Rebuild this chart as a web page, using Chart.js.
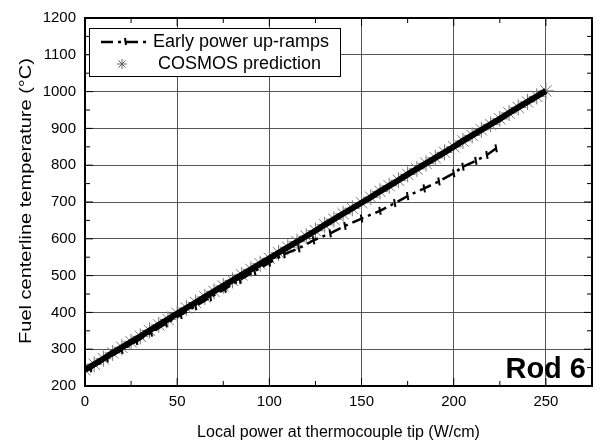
<!DOCTYPE html>
<html>
<head>
<meta charset="utf-8">
<script src="https://cdn.jsdelivr.net/npm/chart.js@4"></script>
<style>
  body { margin: 0; background: #fff; }
  canvas { display: block; }
</style>
</head>
<body>
<canvas id="rodChart" width="601" height="445"></canvas>
<script>
// COSMOS prediction (W/cm, degC)
const cosmosPower = [0, 5, 10, 15, 20, 25, 30, 35, 40, 45, 50, 55, 60, 65, 70, 75, 80, 85, 90, 95,
    100, 105, 110, 115, 120, 125, 130, 135, 140, 145, 150, 155, 160, 165, 170, 175, 180, 185, 190, 195,
    200, 205, 210, 215, 220, 225, 230, 235, 240, 245, 250];
const cosmosTemp = [244, 259, 274, 290, 305, 320, 335, 351, 366, 381, 397, 412, 427, 442, 457, 472, 487, 502, 517, 532,
    547, 562, 577, 592, 607, 622, 638, 653, 668, 683, 698, 713, 729, 744, 759, 775, 790, 805, 820, 835,
    850, 866, 881, 896, 911, 926, 942, 957, 972, 987, 1002];

// Early power up-ramps (measured)
const rampPower = [3, 12, 20, 28, 36, 44, 52, 60, 68, 76, 84, 92, 100, 108, 116, 124, 133, 141, 150,
    160, 168, 175, 184, 192, 200, 205, 212, 218, 223];
const rampTemp = [248, 275, 298, 322, 345, 370, 393, 417, 441, 464, 488, 512, 535, 558, 574, 596, 615, 635, 655,
    676, 697, 716, 737, 756, 778, 796, 812, 828, 846];

// Axis ticks
const xTicks = [0, 50, 100, 150, 200, 250];
const xMinorTicks = [25, 75, 125, 175, 225];
const yTicks = [200, 300, 400, 500, 600, 700, 800, 900, 1000, 1100, 1200];
const yMinorTicks = [250, 350, 450, 550, 650, 750, 850, 950, 1050, 1150];

const FONT = '"Liberation Sans", Arial, sans-serif';

function toPoints(xs, ys) {
    return xs.map((v, i) => ({ x: v, y: ys[i] }));
}

// Frame, inward ticks, legend box, y title and the "Rod 6" label
const decorations = {
    id: 'decorations',
    afterDatasetsDraw(chart) {
        const { ctx, chartArea: a, scales: { x, y } } = chart;
        ctx.save();
        ctx.strokeStyle = '#000';
        ctx.lineWidth = 1;
        ctx.setLineDash([]);

        function seg(x1, y1, x2, y2) {
            ctx.beginPath();
            ctx.moveTo(x1, y1);
            ctx.lineTo(x2, y2);
            ctx.stroke();
        }

        xTicks.forEach(v => {
            const px = x.getPixelForValue(v);
            seg(px, a.bottom, px, a.bottom - 8);
            seg(px, a.top, px, a.top + 8);
        });
        xMinorTicks.forEach(v => {
            const px = x.getPixelForValue(v);
            seg(px, a.bottom, px, a.bottom - 5);
            seg(px, a.top, px, a.top + 5);
        });
        yTicks.forEach(v => {
            const py = y.getPixelForValue(v);
            seg(a.left, py, a.left + 8, py);
            seg(a.right, py, a.right - 8, py);
        });
        yMinorTicks.forEach(v => {
            const py = y.getPixelForValue(v);
            seg(a.left, py, a.left + 5, py);
            seg(a.right, py, a.right - 5, py);
        });

        ctx.lineWidth = 2;
        ctx.strokeRect(a.left, a.top, a.right - a.left, a.bottom - a.top);

        // legend
        ctx.fillStyle = '#fff';
        ctx.fillRect(89, 28, 251, 48);
        ctx.lineWidth = 1;
        ctx.strokeRect(89.5, 28.5, 251, 48);

        ctx.lineWidth = 2.5;
        ctx.setLineDash([12, 5, 3, 5]);
        seg(101, 42, 150, 42);
        ctx.setLineDash([]);
        ctx.lineWidth = 2;
        seg(125, 38, 126, 45);

        ctx.strokeStyle = '#666';
        ctx.lineWidth = 1;
        const sx = 122, sy = 64, r = 5;
        seg(sx - r, sy, sx + r, sy);
        seg(sx, sy - r, sx, sy + r);
        seg(sx - r * 0.7, sy - r * 0.7, sx + r * 0.7, sy + r * 0.7);
        seg(sx - r * 0.7, sy + r * 0.7, sx + r * 0.7, sy - r * 0.7);

        ctx.fillStyle = '#000';
        ctx.font = '18px ' + FONT;
        ctx.textBaseline = 'middle';
        ctx.textAlign = 'left';
        ctx.fillText('Early power up-ramps', 153, 42);
        ctx.fillText('COSMOS prediction', 158, 64);

        ctx.font = 'bold 29px ' + FONT;
        ctx.textAlign = 'right';
        ctx.textBaseline = 'alphabetic';
        ctx.fillText('Rod 6', 586, 378);

        // y title, stretched along its length like the scan
        ctx.translate(27, 201);
        ctx.rotate(-Math.PI / 2);
        ctx.scale(1.25, 1);
        ctx.font = '16px ' + FONT;
        ctx.textAlign = 'center';
        ctx.textBaseline = 'middle';
        ctx.fillText('Fuel centerline temperature (°C)', 0, 0);
        ctx.restore();
    }
};

const ctx = document.getElementById('rodChart').getContext('2d');
new Chart(ctx, {
    type: 'scatter',
    data: {
        datasets: [
            {
                label: 'core',
                data: toPoints(cosmosPower, cosmosTemp),
                showLine: true,
                borderColor: '#000',
                borderWidth: 6,
                pointRadius: 0,
                order: 1
            },
            {
                label: 'COSMOS prediction',
                data: toPoints(cosmosPower, cosmosTemp),
                showLine: false,
                pointStyle: 'star',
                pointRadius: 8,
                borderColor: '#777',
                backgroundColor: '#777',
                pointBorderWidth: 1,
                order: 2
            },
            {
                label: 'Early power up-ramps',
                data: toPoints(rampPower, rampTemp),
                showLine: true,
                borderColor: '#000',
                borderWidth: 2.5,
                borderDash: [12, 5, 3, 5],
                pointStyle: 'line',
                rotation: 80,
                pointRadius: 4,
                pointBorderWidth: 2,
                pointBorderColor: '#000',
                order: 0
            }
        ]
    },
    options: {
        responsive: false,
        animation: false,
        layout: { padding: { top: 13, right: 5, left: 0, bottom: 0 } },
        plugins: {
            legend: { display: false },
            tooltip: { enabled: false }
        },
        scales: {
            x: {
                type: 'linear',
                min: 0,
                max: 275,
                afterBuildTicks: s => { s.ticks = xTicks.map(v => ({ value: v })); },
                afterFit: s => { s.height = 59; },
                grid: { color: '#555', lineWidth: 1, drawTicks: false },
                border: { display: false },
                ticks: { color: '#000', font: { family: FONT, size: 15 }, padding: 7, maxRotation: 0, callback: v => String(v) },
                title: {
                    display: true,
                    text: 'Local power at thermocouple tip (W/cm)',
                    color: '#000',
                    font: { family: FONT, size: 16 },
                    padding: { top: 0, bottom: 3 }
                }
            },
            y: {
                type: 'linear',
                min: 200,
                max: 1200,
                afterBuildTicks: s => { s.ticks = yTicks.map(v => ({ value: v })); },
                afterFit: s => { s.width = 85; },
                grid: { color: '#555', lineWidth: 1, drawTicks: false },
                border: { display: false },
                ticks: { color: '#000', font: { family: FONT, size: 15 }, padding: 9, callback: v => String(v) },
                title: { display: false }
            }
        }
    },
    plugins: [decorations]
});
</script>
</body>
</html>
